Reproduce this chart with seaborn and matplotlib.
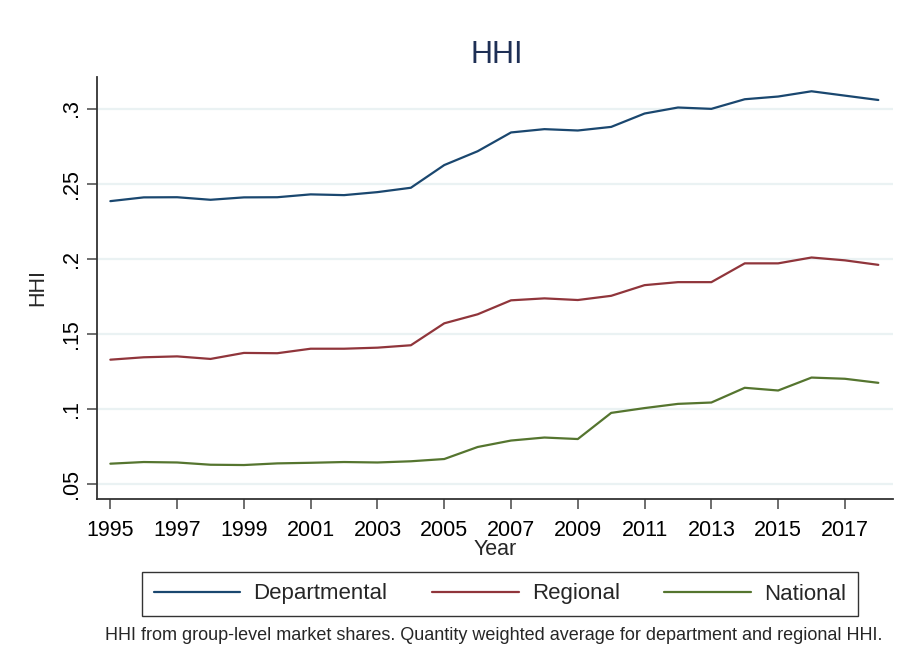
import numpy as np
import pandas as pd
import matplotlib
matplotlib.use("Agg")
import matplotlib.pyplot as plt
import seaborn as sns

years = list(range(1995, 2019))

departmental = [0.2384, 0.2409, 0.2410, 0.2393, 0.2409, 0.2410, 0.2429, 0.2424,
                0.2444, 0.2473, 0.2624, 0.2716, 0.2841, 0.2863, 0.2854, 0.2878,
                0.2967, 0.3007, 0.2998, 0.3062, 0.3080, 0.3115, 0.3086, 0.3057]
regional = [0.1329, 0.1345, 0.1351, 0.1334, 0.1374, 0.1372, 0.1402, 0.1402,
            0.1409, 0.1425, 0.1571, 0.1631, 0.1724, 0.1737, 0.1726, 0.1754,
            0.1825, 0.1845, 0.1845, 0.1970, 0.1970, 0.2009, 0.1990, 0.1960]
national = [0.0637, 0.0648, 0.0645, 0.0630, 0.0628, 0.0639, 0.0643, 0.0648,
            0.0645, 0.0653, 0.0668, 0.0748, 0.0791, 0.0811, 0.0801, 0.0975,
            0.1007, 0.1035, 0.1044, 0.1142, 0.1124, 0.1210, 0.1202, 0.1175]

series_names = ["Departmental", "Regional", "National"]
colors = ["#1a476f", "#90353b", "#55752f"]

y_ticks = [0.05, 0.1, 0.15, 0.2, 0.25, 0.3]
y_ticklabels = [".05", ".1", ".15", ".2", ".25", ".3"]
x_ticks = list(range(1995, 2018, 2))

note = "HHI from group-level market shares. Quantity weighted average for department and regional HHI."

# long format for seaborn
df = pd.DataFrame({
    "Year": years * 3,
    "HHI": departmental + regional + national,
    "series": ["Departmental"] * len(years) + ["Regional"] * len(years) + ["National"] * len(years),
})

sns.set_style("white")
plt.rcParams["font.family"] = ["Liberation Sans", "DejaVu Sans"]

fig = plt.figure(figsize=(9.06, 6.67), dpi=100)
ax = fig.add_axes([97 / 906, 1 - 499 / 667, (893 - 97) / 906, (499 - 77) / 667])

sns.lineplot(data=df, x="Year", y="HHI", hue="series", hue_order=series_names,
             palette=colors, linewidth=1.6, ax=ax, legend=False)

ax.set_xlim(1994.6, 2018.44)
ax.set_ylim(0.0402, 0.321)
ax.set_xticks(x_ticks)
ax.set_xticklabels([str(x) for x in x_ticks], fontsize=15.5)
ax.set_yticks(y_ticks)
ax.set_yticklabels(y_ticklabels, fontsize=15.5, rotation=90, va="center")
ax.yaxis.grid(True, color="#eaf2f3", linewidth=1.6)
ax.xaxis.grid(False)
ax.tick_params(axis="x", direction="out", length=7, width=1.2, color="#555555",
               bottom=True, pad=8, labelcolor="black")
ax.tick_params(axis="y", direction="out", length=7, width=1.2, color="#555555",
               left=True, pad=4, labelcolor="black")
for s in ["top", "right"]:
    ax.spines[s].set_visible(False)
for s in ["left", "bottom"]:
    ax.spines[s].set_color("#333333")
    ax.spines[s].set_linewidth(1.3)

ax.set_xlabel("Year", fontsize=15.5, labelpad=-1)
ax.set_ylabel("HHI", fontsize=15.5, labelpad=9)
fig.text(497 / 906, 1 - 55 / 667, "HHI", fontsize=22, color="#1e2f55", ha="center", va="center")

handles = [plt.Line2D([], [], color=c, linewidth=1.6) for c in colors]
leg = fig.legend(handles, series_names, ncol=3, loc="center",
                 bbox_to_anchor=(500 / 906, 1 - 594 / 667), fontsize=16,
                 frameon=True, fancybox=False, edgecolor="black",
                 handlelength=3.9, columnspacing=2.0, handletextpad=0.6,
                 borderpad=0.5, borderaxespad=0)
leg.get_frame().set_linewidth(1.0)

fig.text(494 / 906, 1 - 636 / 667, note, fontsize=13, ha="center", va="center")

fig.savefig("out.png", dpi=100)
